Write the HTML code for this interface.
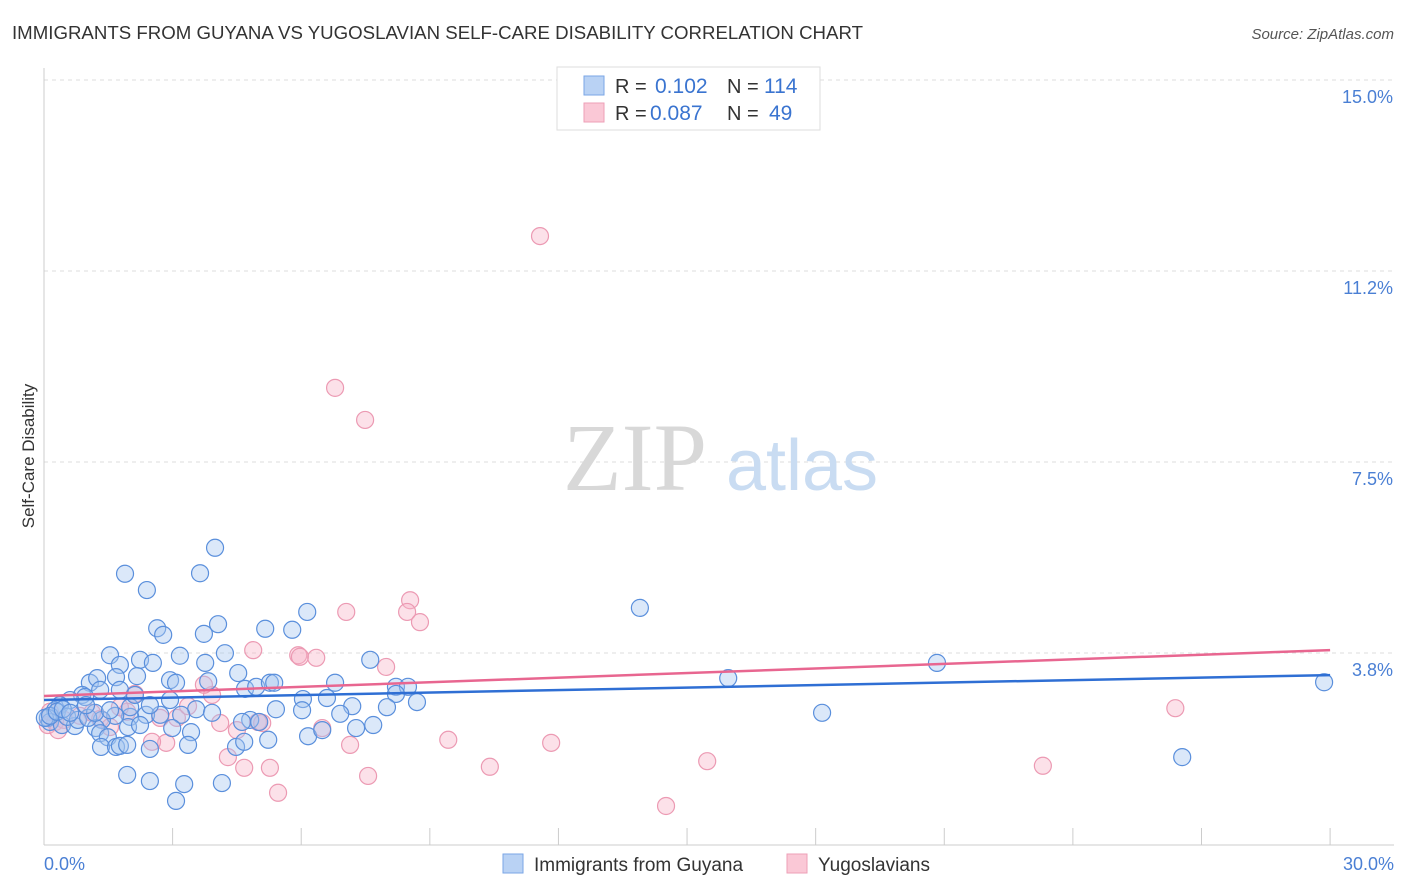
<!DOCTYPE html>
<html><head><meta charset="utf-8"><style>
body{margin:0;background:#fff;width:1406px;height:892px;overflow:hidden;font-family:"Liberation Sans",sans-serif;}
#c{position:absolute;left:0;top:0;}
</style></head><body>
<svg id="c" width="1406" height="892">
<text x="12" y="39" font-size="18" fill="#333" textLength="851" lengthAdjust="spacingAndGlyphs">IMMIGRANTS FROM GUYANA VS YUGOSLAVIAN SELF-CARE DISABILITY CORRELATION CHART</text>
<text x="1394" y="39" font-size="15" fill="#555" font-style="italic" text-anchor="end">Source: ZipAtlas.com</text>
<g id="grid"></g>
<g>
<text x="635" y="490" font-size="96" font-family="Liberation Serif,serif" fill="#d8d8d8" text-anchor="middle">ZIP</text>
<text x="802" y="490" font-size="72" fill="#c9dcf2" text-anchor="middle">atlas</text>
</g>
<line x1="44" y1="68" x2="44" y2="845" stroke="#ccc"/>
<line x1="44" y1="845" x2="1394" y2="845" stroke="#ccc"/>
<g id="xt"></g>
<g id="yl"></g>
<text x="44" y="870" font-size="18" fill="#4a7fd4">0.0%</text>
<text x="1394" y="870" font-size="18" fill="#4a7fd4" text-anchor="end">30.0%</text>
<text transform="translate(34,456) rotate(-90)" font-size="17" fill="#333" text-anchor="middle">Self-Care Disability</text>
<g id="pts"></g>
<g id="lines"></g>
<g>
<rect x="557" y="67" width="263" height="63" fill="#fff" stroke="#ddd"/>
<rect x="584" y="76" width="20" height="19" fill="#b9d2f4" stroke="#7aa6e6"/>
<rect x="584" y="103" width="20" height="19" fill="#fac8d6" stroke="#ee9fb7"/>
<text x="615" y="93" font-size="20" fill="#333">R = </text><text x="655" y="93" font-size="21" fill="#3a74d0">0.102</text>
<text x="727" y="93" font-size="20" fill="#333">N = </text><text x="764" y="93" font-size="21" fill="#3a74d0">114</text>
<text x="615" y="120" font-size="20" fill="#333">R = </text><text x="650" y="120" font-size="21" fill="#3a74d0">0.087</text>
<text x="727" y="120" font-size="20" fill="#333">N = </text><text x="769" y="120" font-size="21" fill="#3a74d0">49</text>
</g>
<g>
<rect x="503" y="854" width="20" height="19" fill="#b9d2f4" stroke="#7aa6e6"/>
<text x="534" y="871" font-size="19" fill="#333">Immigrants from Guyana</text>
<rect x="787" y="854" width="20" height="19" fill="#fac8d6" stroke="#ee9fb7"/>
<text x="818" y="871" font-size="19" fill="#333">Yugoslavians</text>
</g>
</svg>
<script>
const yTicks=[3.75,7.5,11.25,15];
const yTickLabels=["3.8%","7.5%","11.2%","15.0%"];
const xTicks=[0,3,6,9,12,15,18,21,24,27,30];
const blueX=[1.89,2.40,3.64,3.99,2.64,2.78,4.06,3.73,5.16,5.79,6.14,13.90,1.54,1.77,2.24,2.54,3.17,4.22,3.76,1.07,1.24,1.68,2.17,2.94,3.08,3.83,4.53,4.69,4.95,5.27,5.37,6.04,6.60,6.79,7.61,8.21,8.49,8.70,8.21,7.19,8.00,5.41,3.55,3.20,2.38,2.01,1.66,1.35,0.89,0.96,0.61,0.37,0.26,0.09,0.14,0.42,0.72,1.21,1.31,1.49,1.96,2.71,2.99,3.43,2.94,4.81,5.02,6.16,6.49,7.28,7.68,1.33,1.68,1.77,1.94,2.47,3.36,4.48,4.67,1.94,2.47,3.27,3.08,4.15,15.96,20.83,18.15,26.55,29.86,0.02,0.14,0.30,0.54,0.79,1.03,1.19,1.54,2.01,2.24,3.92,4.62,5.23,6.02,6.91,1.31,0.98,0.44,0.61,1.77,2.12,2.47];
const blueY=[5.64,5.32,5.65,6.15,4.57,4.44,4.65,4.46,4.56,4.54,4.89,4.97,4.04,3.85,3.95,3.89,4.03,4.08,3.89,3.50,3.59,3.61,3.63,3.55,3.50,3.53,3.69,3.38,3.42,3.50,3.50,3.18,3.20,3.50,3.95,3.42,3.42,3.12,3.28,3.04,3.02,2.98,2.98,2.87,2.87,2.83,2.85,2.77,3.26,3.22,3.16,3.06,2.96,2.81,2.73,2.67,2.65,2.61,2.51,2.43,2.63,2.87,2.61,2.53,3.16,2.77,2.73,2.45,2.57,2.61,2.67,2.24,2.24,2.26,2.28,2.20,2.28,2.24,2.34,1.69,1.57,1.51,1.18,1.53,3.59,3.89,2.91,2.04,3.51,2.81,2.85,2.93,2.83,2.77,2.81,2.91,2.96,3.02,2.67,2.91,2.73,2.38,2.96,2.89,3.36,3.06,2.98,2.91,3.36,3.26,3.06];
const pinkX=[11.57,6.79,7.49,8.54,8.47,8.77,7.05,4.88,5.93,5.97,6.35,7.98,26.39,2.12,3.92,3.73,1.94,2.71,3.10,4.11,4.50,4.99,5.09,6.49,7.14,2.85,2.52,4.29,4.67,5.27,5.46,7.56,9.43,10.40,11.83,14.51,15.47,23.30,0.09,0.26,0.47,0.84,1.31,1.54,1.77,0.14,0.33,3.36,1.12];
const pinkY=[12.27,9.29,8.66,5.12,4.89,4.69,4.89,4.14,4.04,4.01,3.99,3.81,3.00,3.28,3.26,3.46,2.93,2.81,2.81,2.71,2.57,2.73,2.71,2.61,2.28,2.32,2.34,2.04,1.83,1.83,1.34,1.67,2.38,1.85,2.32,1.08,1.96,1.87,2.67,2.73,2.77,2.85,2.79,2.63,3.02,2.93,2.57,3.04,2.91];
const blueTrend=[3.16,3.65];
const pinkTrend=[3.24,4.14];
const NS="http://www.w3.org/2000/svg";
function sx(v){return 44+v*42.87;}
function sy(v){return 861-v*50.93;}
function mk(t,a){const e=document.createElementNS(NS,t);for(const k in a)e.setAttribute(k,a[k]);return e;}
const grid=document.getElementById('grid'),yl=document.getElementById('yl'),xt=document.getElementById('xt');
yTicks.forEach((t,i)=>{
 const g=mk('line',{x1:44,x2:1394,y1:sy(t)-17,y2:sy(t)-17,stroke:'#ddd','stroke-dasharray':'4,4'});
 
 
 grid.appendChild(g);
 const l=mk('text',{x:1393,y:sy(t)+6,'font-size':18,fill:'#4a7fd4','text-anchor':'end'});
 l.textContent=yTickLabels[i];
 
 
 yl.appendChild(l);
});
xTicks.forEach(t=>{
 const e=mk('line',{x1:sx(t),x2:sx(t),y1:828,y2:845,stroke:'#ccc'});
 
 
 xt.appendChild(e);
});
const pts=document.getElementById('pts');
pinkX.forEach((x,i)=>{
 const c=mk('circle',{cx:sx(x),cy:sy(pinkY[i]),r:8.5,fill:'rgba(247,180,200,0.4)',stroke:'#ec9ab3','stroke-width':1.2});
 
 
 pts.appendChild(c);
});
blueX.forEach((x,i)=>{
 const c=mk('circle',{cx:sx(x),cy:sy(blueY[i]),r:8.5,fill:'rgba(164,198,240,0.4)',stroke:'#5a8fdc','stroke-width':1.2});
 
 
 pts.appendChild(c);
});
const lines=document.getElementById('lines');
const pl=mk('line',{x1:sx(0),x2:sx(30),y1:sy(pinkTrend[0]),y2:sy(pinkTrend[1]),stroke:'#e86690','stroke-width':2.5});


lines.appendChild(pl);
const bl=mk('line',{x1:sx(0),x2:sx(30),y1:sy(blueTrend[0]),y2:sy(blueTrend[1]),stroke:'#2f6fd4','stroke-width':2.5});


lines.appendChild(bl);
</script>
</body></html>
